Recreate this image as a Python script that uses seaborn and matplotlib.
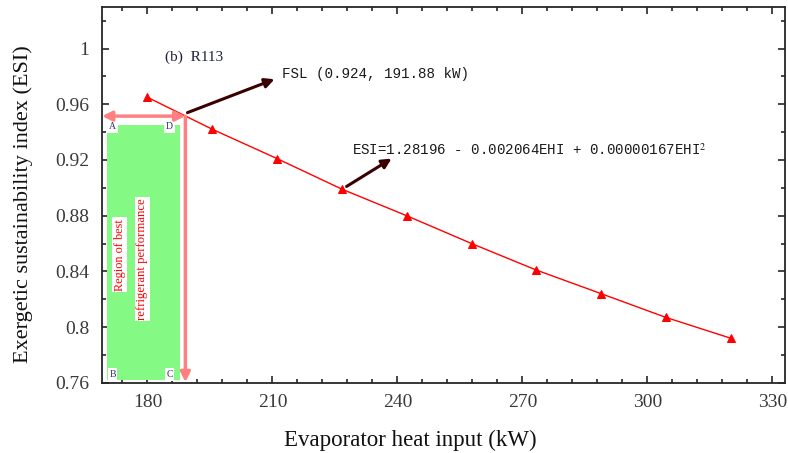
import matplotlib
matplotlib.use('Agg')
import matplotlib.pyplot as plt
import seaborn as sns
import pandas as pd
from matplotlib.ticker import AutoMinorLocator, FormatStrFormatter, MultipleLocator
from matplotlib.patches import Rectangle

# evaporator heat input (kW) and exergetic sustainability index for R113
ehi = [180.0, 195.6, 211.1, 226.7, 242.2, 257.8, 273.3, 288.9, 304.4, 320.0]
esi = [0.965, 0.942, 0.921, 0.899, 0.880, 0.860, 0.841, 0.824, 0.807, 0.792]

fsl_label = 'FSL (0.924, 191.88 kW)'
fit_label = 'ESI=1.28196 - 0.002064EHI + 0.00000167EHI$^2$'
panel_label = '(b)  R113'
region_lines = ['Region of best', 'refrigerant performance']
corner_labels = ['A', 'D', 'B', 'C']

df = pd.DataFrame({'EHI': ehi, 'ESI': esi})

sns.set_style('ticks')
plt.rcParams['font.family'] = ['Liberation Serif', 'DejaVu Serif']
plt.rcParams['mathtext.fontset'] = 'stix'

fig = plt.figure(figsize=(7.88, 4.53), dpi=100)
ax = fig.add_axes([0.129, 0.155, 0.867, 0.830])

sns.lineplot(data=df, x='EHI', y='ESI', ax=ax, color='red', linewidth=1.0,
             marker='^', markersize=6, markeredgecolor='red')

ax.set_xlim(169, 333)
ax.set_ylim(0.76, 1.03)
ax.xaxis.set_major_locator(MultipleLocator(30))
ax.xaxis.set_minor_locator(AutoMinorLocator(5))
ax.yaxis.set_major_locator(MultipleLocator(0.04))
ax.yaxis.set_minor_locator(AutoMinorLocator(2))
ax.yaxis.set_major_formatter(FormatStrFormatter('%g'))
ax.tick_params(which='both', direction='in', top=True, right=True, width=1.2)
ax.tick_params(which='major', length=5, labelsize=14, labelcolor='#3a3a3a')
ax.tick_params(axis='x', which='major', pad=8)
ax.tick_params(axis='y', which='major', pad=9)
ax.tick_params(which='minor', length=3)
for s in ax.spines.values():
    s.set_linewidth(1.3)

ax.set_xlabel('Evaporator heat input (kW)', fontsize=16.5, color='#111111')
ax.xaxis.set_label_coords(0.452, -0.125)
ax.set_ylabel('Exergetic sustainability index (ESI)', fontsize=16, color='#111111')
ax.yaxis.set_label_coords(-0.10, 0.475)

# region of best performance
ax.add_patch(Rectangle((170.2, 0.762), 17.5, 0.183, facecolor='#84f984',
                       edgecolor='none', zorder=1))
corner_pos = [(171.6, 0.944), (185.3, 0.944), (171.6, 0.766), (185.3, 0.766)]
for lab, (cx, cy) in zip(corner_labels, corner_pos):
    ax.text(cx, cy, lab, fontsize=7, color='#303070', ha='center', va='center',
            bbox=dict(facecolor='white', edgecolor='none', pad=1.2), zorder=3)
ax.text(173.3, 0.852, region_lines[0], rotation=90, fontsize=8.8, color='red',
        ha='center', va='center',
        bbox=dict(facecolor='white', edgecolor='none', pad=1), zorder=3)
ax.text(178.8, 0.849, region_lines[1], rotation=90, fontsize=9.2, color='red',
        ha='center', va='center',
        bbox=dict(facecolor='white', edgecolor='none', pad=1), zorder=3)

pink = '#ff8080'
ax.annotate('', xy=(169.1, 0.9515), xytext=(189.1, 0.9515),
            arrowprops=dict(arrowstyle='<|-|>', color=pink, lw=2.5,
                            mutation_scale=14, shrinkA=0, shrinkB=0), zorder=4)
ax.annotate('', xy=(189.1, 0.7605), xytext=(189.1, 0.9515),
            arrowprops=dict(arrowstyle='-|>', color=pink, lw=2.5,
                            mutation_scale=14, shrinkA=0, shrinkB=0), zorder=4)

# annotations
dark = '#3a0000'
ax.annotate('', xy=(210.5, 0.978), xytext=(189.6, 0.954),
            arrowprops=dict(arrowstyle='-|>', color=dark, lw=2.2,
                            mutation_scale=14, shrinkA=0, shrinkB=0), zorder=5)
ax.text(212.2, 0.982, fsl_label, fontsize=10.3, family='Liberation Mono',
        color='#1a1a1a', va='center')
ax.annotate('', xy=(238.6, 0.921), xytext=(227.8, 0.901),
            arrowprops=dict(arrowstyle='-|>', color=dark, lw=2.2,
                            mutation_scale=14, shrinkA=0, shrinkB=0), zorder=5)
ax.text(229.0, 0.927, fit_label, fontsize=10.2, family='Liberation Mono',
        color='#1a1a1a', va='center')
ax.text(184.1, 0.994, panel_label, fontsize=11, color='#202040', va='center')

fig.savefig('out.png', dpi=100)
